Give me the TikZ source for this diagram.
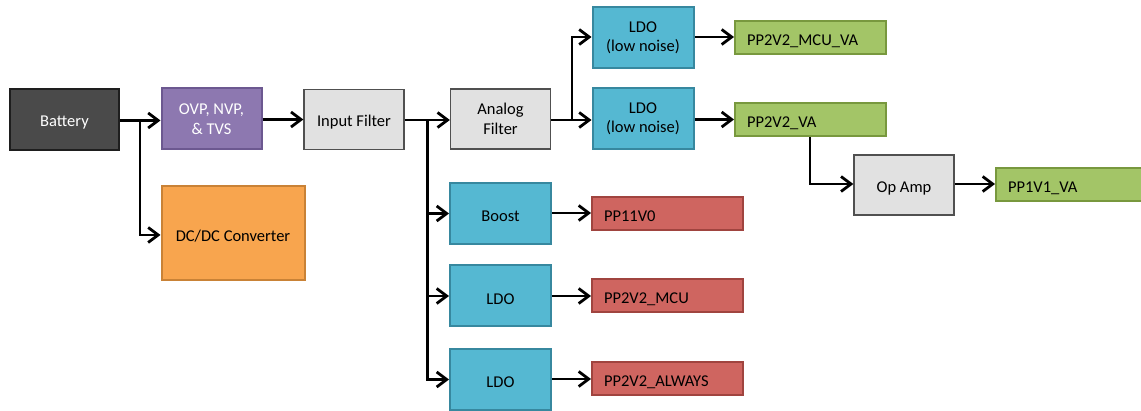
\documentclass[tikz,border=0pt]{standalone}
\usepackage{fontspec}
\setmainfont{Carlito}
\usetikzlibrary{arrows.meta}
\definecolor{batfill}{HTML}{4A4A4A}
\definecolor{batdraw}{HTML}{1E1E1E}
\definecolor{ovpfill}{HTML}{8D78B0}
\definecolor{ovpdraw}{HTML}{6C5890}
\definecolor{grayfill}{HTML}{E1E1E1}
\definecolor{graydraw}{HTML}{505050}
\definecolor{orgfill}{HTML}{F8A54E}
\definecolor{orgdraw}{HTML}{C98236}
\definecolor{bluefill}{HTML}{55B8D2}
\definecolor{bluedraw}{HTML}{37889F}
\definecolor{grnfill}{HTML}{A3C567}
\definecolor{grndraw}{HTML}{78983E}
\definecolor{redfill}{HTML}{CF6560}
\definecolor{reddraw}{HTML}{A0443F}
\tikzset{
  base/.style={rectangle, inner sep=0pt, align=center, font=\fontsize{16.5}{19.5}\selectfont, line width=2pt,
    execute at begin node={\rule{0pt}{17pt}}},
  bat/.style={base, fill=batfill, draw=batdraw, text=white, line width=2.5pt},
  ovp/.style={base, fill=ovpfill, draw=ovpdraw, text=white},
  gbox/.style={base, fill=grayfill, draw=graydraw, line width=1.3pt, minimum width=100pt, minimum height=60pt},
  dcdc/.style={base, fill=orgfill, draw=orgdraw},
  bbox/.style={base, fill=bluefill, draw=bluedraw, minimum width=101pt, minimum height=61pt},
  rail/.style={base, minimum height=33pt, text width=#1, align=left, inner xsep=12pt},
  grail/.style={rail=#1, fill=grnfill, draw=grndraw},
  rrail/.style={rail=#1, fill=redfill, draw=reddraw},
  conn/.style={line width=2.8pt, -{Straight Barb[length=10pt,width=15pt,line width=2.8pt]}},
  wire/.style={line width=2.8pt}
}
\begin{document}
\begin{tikzpicture}[x=1pt,y=-1pt]
\useasboundingbox (0,0) rectangle (1141,411);
\node[bat, minimum width=109pt, minimum height=61pt] (bat) at (64.5,119.5) {Battery};
\node[ovp, minimum width=100pt, minimum height=61pt] (ovp) at (211.5,119) {OVP, NVP,\\\& TVS};
\node[gbox] (inf) at (354,119.5) {Input Filter};
\node[dcdc, minimum width=143pt, minimum height=94pt] (dcdc) at (233,233.5) {DC/DC Converter};
\node[gbox] (af) at (500.5,119) {Analog\\Filter};
\node[bbox] (ldo1) at (643,38) {LDO\\(low noise)};
\node[bbox] (ldo2) at (643,119) {LDO\\(low noise)};
\node[bbox] (boost) at (500.5,213.5) {Boost};
\node[bbox] (ldo3) at (500.5,296) {LDO};
\node[bbox] (ldo4) at (500.5,379.5) {LDO};
\node[grail=127pt] (r1) at (810.5,38) {PP2V2\_MCU\_VA};
\node[grail=127pt] (r2) at (810.5,120) {PP2V2\_VA};
\node[gbox] (op) at (904,185) {Op Amp};
\node[grail=150pt] (r3) at (1083,185) {PP1V1\_VA};
\node[rrail=127pt] (p1) at (667.5,213.5) {PP11V0};
\node[rrail=127pt] (p2) at (667.5,296) {PP2V2\_MCU};
\node[rrail=127pt] (p3) at (667.5,379) {PP2V2\_ALWAYS};
% connectors
\coordinate (j1) at (140,120.5);
\coordinate (j2) at (427.5,120);
\coordinate (j3) at (572,120);
\draw[conn] (bat.east |- j1) -- (ovp.west |- j1);
\draw[conn] (j1) |- (dcdc.west |- 0,235);
\draw[conn] (ovp.east |- 0,119.5) -- (inf.west |- 0,119.5);
\draw[conn] (inf.east |- j2) -- (af.west |- j2);
\draw[wire] (j2) -- (427.5,380.5);
\draw[conn] (j2) |- (boost.west);
\draw[conn] (j2) |- (ldo3.west);
\draw[conn] (j2) |- (ldo4.west);
\draw[conn] (af.east |- j3) -- (ldo2.west |- j3);
\draw[conn] (j3) |- (ldo1.west |- 0,37);
\draw[conn] (ldo1.east |- 0,37) -- (r1.west |- 0,37);
\draw[conn] (ldo2.east |- 0,119.5) -- (r2.west |- 0,119.5);
\draw[conn] (810,137) |- (op.west |- 0,184);
\draw[conn] (op.east |- 0,184) -- (r3.west |- 0,184);
\draw[conn] (boost.east |- 0,213) -- (p1.west |- 0,213);
\draw[conn] (ldo3.east |- 0,296) -- (p2.west |- 0,296);
\draw[conn] (ldo4.east |- 0,379) -- (p3.west |- 0,379);
\end{tikzpicture}
\end{document}
